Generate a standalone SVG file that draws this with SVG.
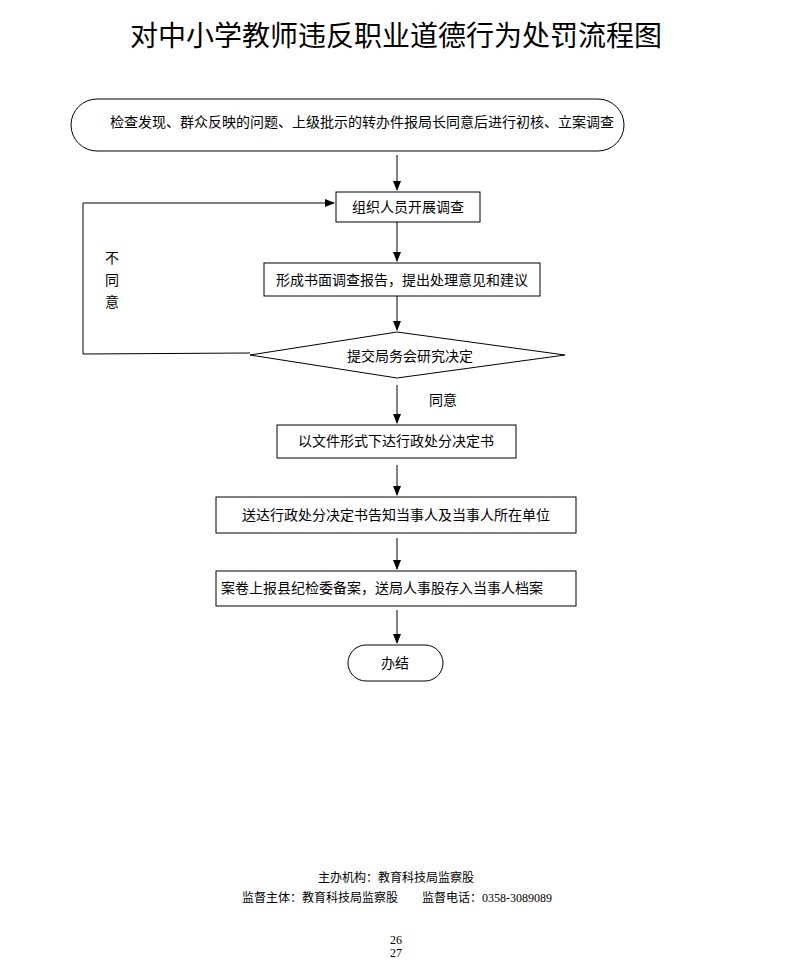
<svg xmlns="http://www.w3.org/2000/svg" width="793" height="978" viewBox="0 0 793 978">
<style>
text{font-family:"Liberation Sans","Noto Sans CJK SC",sans-serif;fill:#000;text-anchor:middle}
.n{font-size:14px}
.b{fill:#fff;stroke:#000;stroke-width:1}
.c{stroke:#000;stroke-width:1;fill:none}
.f{font-size:12px}
.s{font-family:"Liberation Serif","Noto Sans CJK SC",serif;font-size:12px}
</style>
<defs><marker id="a" markerWidth="10" markerHeight="8" refX="9" refY="4" orient="auto" markerUnits="userSpaceOnUse"><path d="M0,0L10,4L0,8z" fill="#000"/></marker></defs>
<rect width="793" height="978" fill="#fff"/>
<text x="396" y="46" font-size="28">对中小学教师违反职业道德行为处罚流程图</text>
<g id="connectors">
<line class="c" x1="397" y1="155" x2="397" y2="190" marker-end="url(#a)"/>
<line class="c" x1="397" y1="222" x2="397" y2="261" marker-end="url(#a)"/>
<line class="c" x1="397" y1="296" x2="397" y2="330" marker-end="url(#a)"/>
<polyline class="c" points="250,353 83,354 83,203 334,203" marker-end="url(#a)"/>
<line class="c" x1="397" y1="385" x2="397" y2="423" marker-end="url(#a)"/>
<line class="c" x1="397" y1="465" x2="397" y2="495" marker-end="url(#a)"/>
<line class="c" x1="397" y1="538" x2="397" y2="569" marker-end="url(#a)"/>
<line class="c" x1="397" y1="610" x2="397" y2="643" marker-end="url(#a)"/>
<text class="n" x="112" y="263">不</text>
<text class="n" x="112" y="285">同</text>
<text class="n" x="112" y="307">意</text>
<text class="n" x="443" y="405">同意</text>
</g>
<g id="n1"><rect class="b" x="71" y="99" width="553" height="52" rx="26"/><text class="n" x="362" y="127">检查发现、群众反映的问题、上级批示的转办件报局长同意后进行初核、立案调查</text></g>
<g id="n2"><rect class="b" x="336" y="192" width="144" height="30"/><text class="n" x="408" y="212">组织人员开展调查</text></g>
<g id="n3"><rect class="b" x="264" y="263" width="276" height="33"/><text class="n" x="402" y="285">形成书面调查报告，提出处理意见和建议</text></g>
<g id="n4"><polygon class="b" points="250,355 397,332 565,355 397,378"/><text class="n" x="410" y="361">提交局务会研究决定</text></g>
<g id="n5"><rect class="b" x="277" y="425" width="239" height="33"/><text class="n" x="396" y="446">以文件形式下达行政处分决定书</text></g>
<g id="n6"><rect class="b" x="216" y="497" width="360" height="36"/><text class="n" x="396" y="520">送达行政处分决定书告知当事人及当事人所在单位</text></g>
<g id="n7"><rect class="b" x="216" y="571" width="360" height="35"/><text class="n" x="382" y="593">案卷上报县纪检委备案，送局人事股存入当事人档案</text></g>
<g id="n8"><rect class="b" x="348" y="645" width="95" height="36" rx="18"/><text class="n" x="395" y="668">办结</text></g>
<text class="f" x="396" y="882">主办机构：教育科技局监察股</text>
<text class="f" x="320" y="902">监督主体：教育科技局监察股</text>
<text class="f" x="452" y="902">监督电话：</text>
<text class="s" x="517" y="902">0358-3089089</text>
<text class="s" x="396" y="944">26</text>
<text class="s" x="396" y="957">27</text>
</svg>
